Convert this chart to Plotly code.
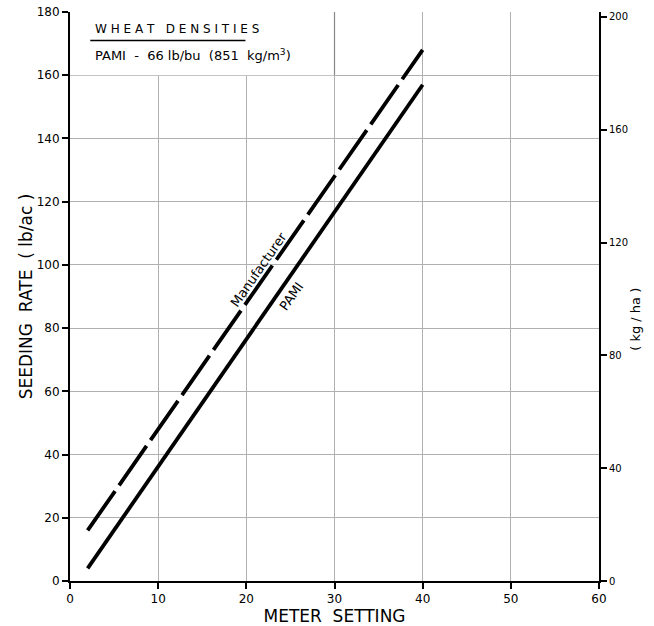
import plotly.graph_objects as go

# Data
meter_setting = [2, 40]
manufacturer_rate = [16, 168]
pami_rate = [4, 157]
x_ticks = [0, 10, 20, 30, 40, 50, 60]
y_ticks = [0, 20, 40, 60, 80, 100, 120, 140, 160, 180]
kgha_ticks = [0, 40, 80, 120, 160, 200]
LB_AC_TO_KG_HA = 1.12085

FONT = "DejaVu Sans"

fig = go.Figure()
fig.add_trace(go.Scatter(x=meter_setting, y=manufacturer_rate, mode="lines",
                         line=dict(color="black", width=3.8, dash="48px,7px"),
                         showlegend=False))
fig.add_trace(go.Scatter(x=meter_setting, y=pami_rate, mode="lines",
                         line=dict(color="black", width=3.8),
                         showlegend=False))
# dummy trace for right axis
fig.add_trace(go.Scatter(x=[None], y=[None], yaxis="y2", showlegend=False))

fig.update_layout(
    width=654, height=626,
    margin=dict(l=70, r=55, t=12, b=45),
    paper_bgcolor="white", plot_bgcolor="white",
    font=dict(family=FONT, color="black", size=11),
    xaxis=dict(range=[0, 60], tickvals=x_ticks, showgrid=True, gridcolor="#b0b0b0",
               gridwidth=1, showline=True, linecolor="black", linewidth=2,
               ticks="outside", ticklen=6, tickwidth=2, tickcolor="black",
               zeroline=False, tickfont=dict(size=12), automargin=False,
               title=dict(text="METER  SETTING", font=dict(size=17), standoff=0)),
    yaxis=dict(range=[0, 180], tickvals=y_ticks, showgrid=True, gridcolor="#b0b0b0",
               gridwidth=1, showline=True, linecolor="black", linewidth=2,
               ticks="outside", ticklen=6, tickwidth=2, tickcolor="black",
               zeroline=False, tickfont=dict(size=12), automargin=False,
               title=dict(text="SEEDING  RATE  ( lb/ac )", font=dict(size=17), standoff=0)),
    yaxis2=dict(range=[0, 180 * LB_AC_TO_KG_HA], tickvals=kgha_ticks, overlaying="y",
                side="right", showgrid=False, showline=True, linecolor="black",
                linewidth=2, ticks="outside", ticklen=6, tickwidth=2, tickcolor="black",
                zeroline=False, tickfont=dict(size=10), automargin=False),
)

# title box background (covers grid)
fig.add_shape(type="rect", xref="x", yref="y", x0=0, x1=30, y0=160, y1=180,
              fillcolor="white", line=dict(width=0), layer="between")
fig.add_shape(type="line", xref="x", yref="y", x0=30, x1=30, y0=160, y1=180,
              line=dict(color="#888", width=1.2), layer="between")
fig.add_shape(type="line", xref="x", yref="y", x0=2.3, x1=19.9, y0=171.0, y1=171.0,
              line=dict(color="black", width=1.5))

fig.add_annotation(x=2.6, y=174.5, xref="x", yref="y", xanchor="left", yanchor="middle",
                   text="W H E A T   D E N S I T I E S", showarrow=False, font=dict(size=12))
fig.add_annotation(x=2.6, y=166.3, xref="x", yref="y", xanchor="left", yanchor="middle",
                   text="PAMI  -  66 lb/bu  (851  kg/m<sup>3</sup>)", showarrow=False,
                   font=dict(size=13))
fig.add_annotation(x=21.4, y=98.5, xref="x", yref="y", text="Manufacturer",
                   showarrow=False, textangle=-55, font=dict(size=13))
fig.add_annotation(x=25.1, y=90, xref="x", yref="y", text="PAMI",
                   showarrow=False, textangle=-55, font=dict(size=13))
fig.add_annotation(x=1, xshift=46, y=0.46, xref="paper", yref="paper", text="( kg / ha )",
                   showarrow=False, textangle=-90, font=dict(size=13))

fig.write_html("out.html")
